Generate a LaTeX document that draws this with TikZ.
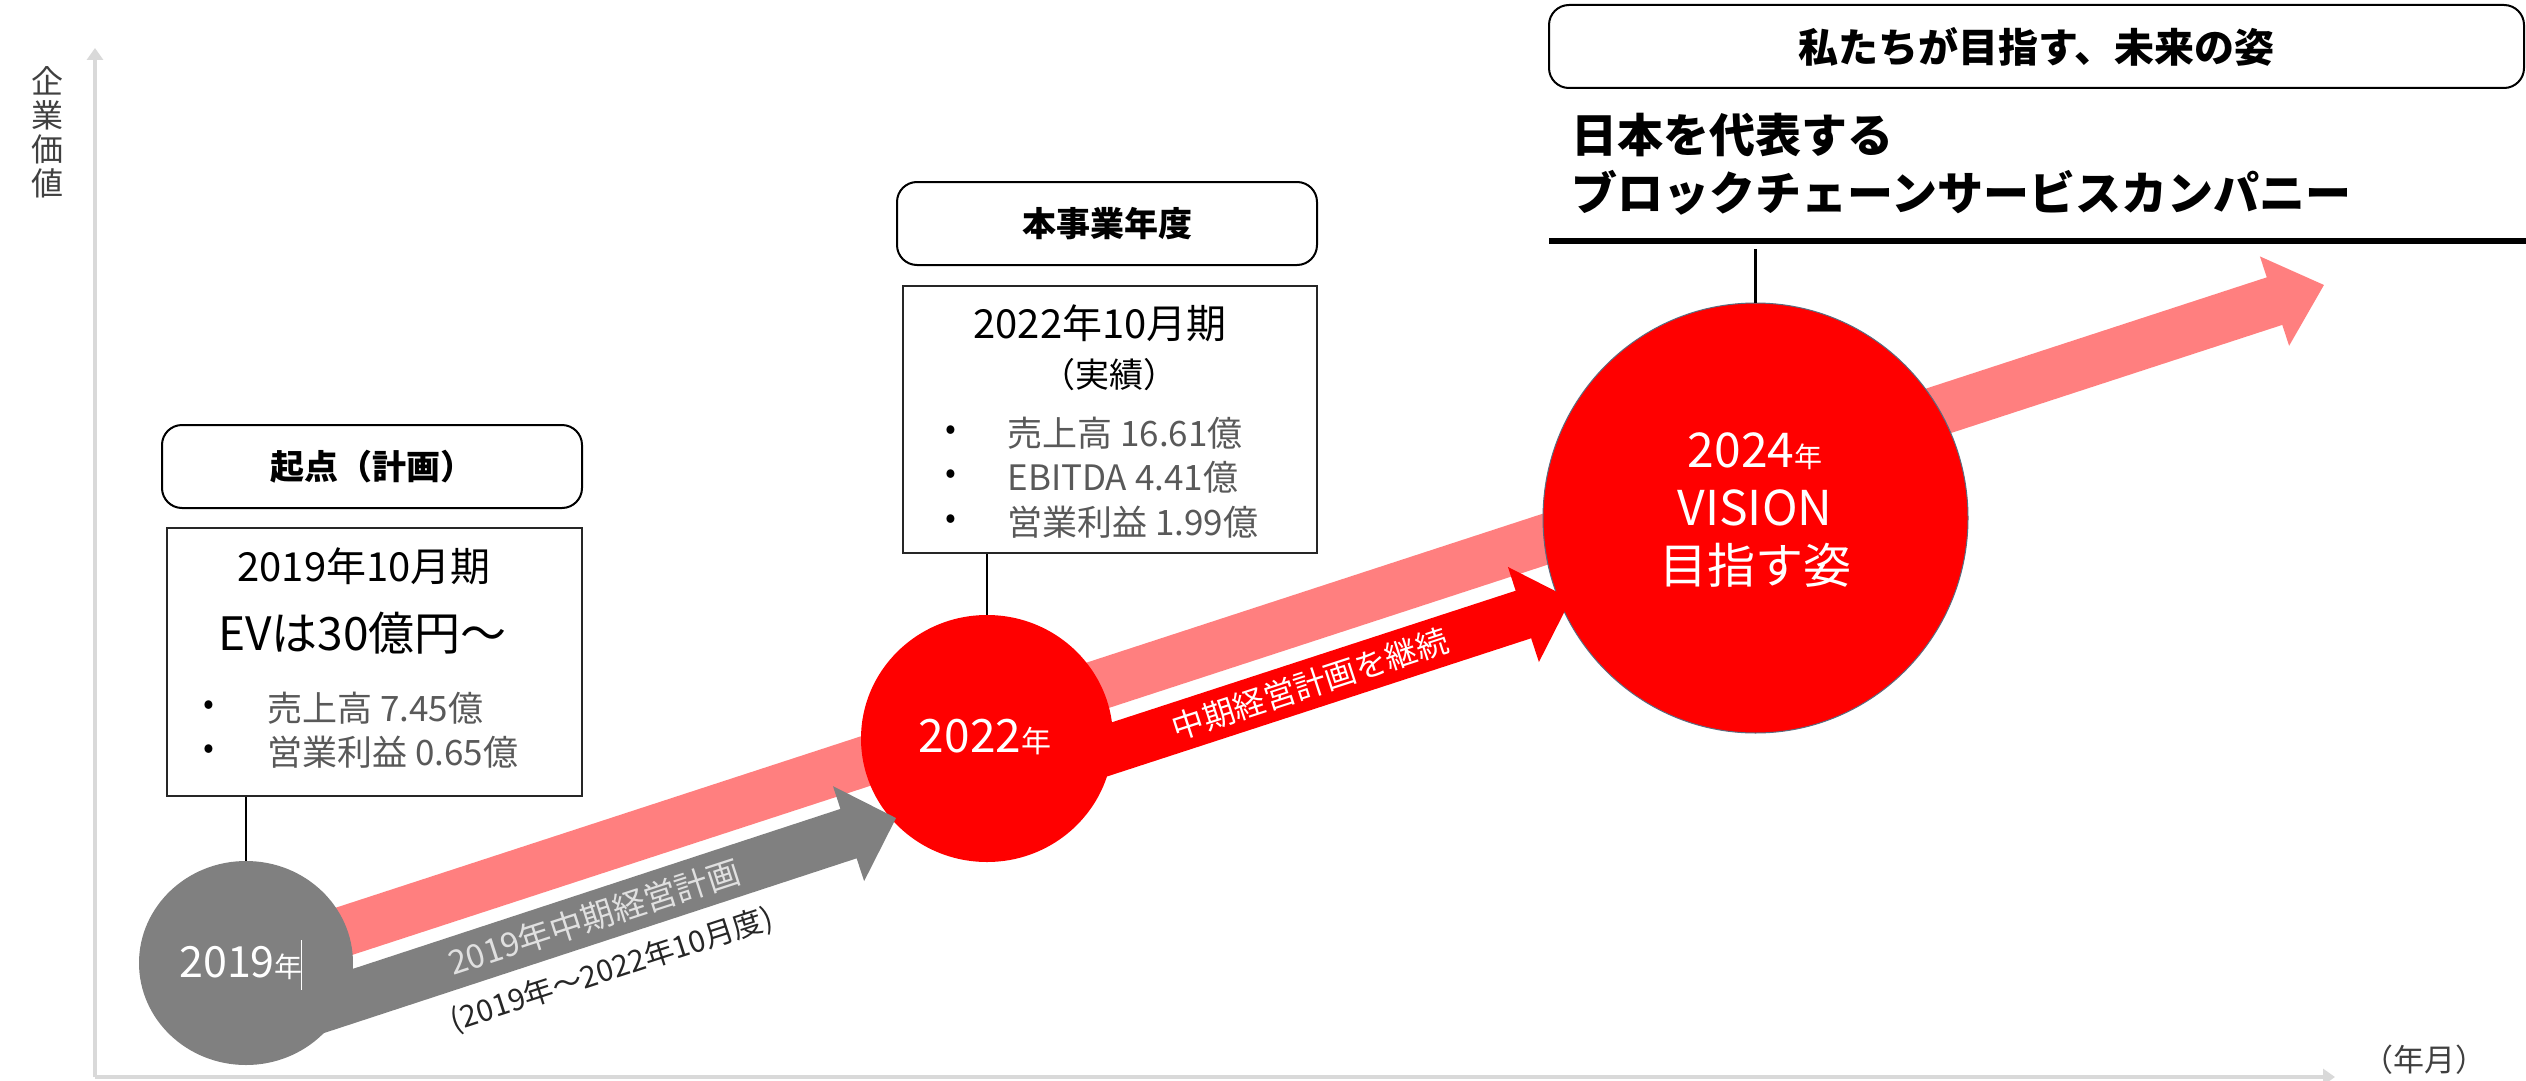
\documentclass[tikz,border=0pt]{standalone}
\usepackage{fontspec}
\setmainfont{Noto Sans CJK JP}
\usetikzlibrary{arrows.meta,shapes.geometric}
\definecolor{pinkA}{HTML}{FF7F7F}
\definecolor{redA}{HTML}{FF0000}
\definecolor{grayA}{HTML}{808080}
\definecolor{axisc}{HTML}{D9D9D9}
\definecolor{txtgray}{HTML}{595959}
\definecolor{axtxt}{HTML}{404040}
\definecolor{ringc}{HTML}{5B6B7F}
\begin{document}
\begin{tikzpicture}[x=0.5pt,y=-0.5pt,
  roundbox/.style={draw=black, line width=1pt, rounded corners=10pt, fill=white, inner sep=0pt},
  rectbox/.style={draw=black!85, line width=1pt, fill=white, inner sep=0pt},
  conn/.style={draw=black, line width=1.3pt},
  disc/.style={ellipse, inner sep=0pt},
  txt/.style={inner sep=0pt},
  head/.style={font=\fontsize{17}{20}\selectfont\bfseries},
  bul/.style={txt, font=\fontsize{16}{20}\selectfont},
  bultxt/.style={txt, anchor=west, text=txtgray, font=\fontsize{17.5}{20}\selectfont},
  axisline/.style={draw=axisc, line width=2pt, -{Triangle[width=8pt,length=6pt]}},
]
\fill[white] (0,0) rectangle (2526,1081);
\useasboundingbox (0,0) rectangle (2526,1081);

% axes
\coordinate (origin) at (95,1077);
\coordinate (ytip) at (95,48);
\coordinate (xtip) at (2335,1077);
\draw[axisline] (origin) -- (ytip);
\draw[axisline] (origin) -- (xtip);
\node[txt, text=axtxt, align=center, font=\fontsize{16}{17}\selectfont] (ylab) at (48,132) {企\\業\\価\\値};
\node[txt, text=axtxt, font=\fontsize{15.5}{18}\selectfont] (xlab) at (2424,1060) {（年月）};

% big pink arrow
\begin{scope}[shift={(250,962)}, rotate=18.08]
\fill[pinkA] (0,-25) -- (2129.7,-25) -- (2129.7,-47) -- (2181.7,0) -- (2129.7,47) -- (2129.7,25) -- (0,25) -- cycle;
\end{scope}

% circles
\node[disc, fill=grayA, minimum width=107pt, minimum height=102pt] (c2019) at (246,963) {};
\node[disc, fill=redA, minimum width=126pt, minimum height=123.5pt] (c2022) at (987,738.5) {};
\node[disc, fill=redA, draw=ringc, line width=0.5pt, minimum width=212.5pt, minimum height=215pt] (c2024) at (1755.5,518) {};

% gray arrow
\begin{scope}[shift={(262,1026)}, rotate=18.16]
\fill[grayA] (0,-26) -- (617.3,-26) -- (617.3,-50) -- (667.3,0) -- (617.3,50) -- (617.3,26) -- (0,26) -- cycle;
\end{scope}
% red arrow
\begin{scope}[shift={(1060,765.5)}, rotate=18.05]
\fill[redA] (0,-25) -- (487.4,-25) -- (487.4,-50) -- (537.4,0) -- (487.4,50) -- (487.4,25) -- (0,25) -- cycle;
\end{scope}

% arrow labels
\node[txt, rotate=18, text=white!88!black, font=\fontsize{16.5}{18}\selectfont] (lab1) at (594,917) {2019年中期経営計画};
\node[txt, rotate=18, text=black!85, font=\fontsize{15}{18}\selectfont] (lab2) at (612,970) {(2019年〜2022年10月度)};
\node[txt, rotate=18, text=white, font=\fontsize{16}{18}\selectfont] (lab3) at (1310,684) {中期経営計画を継続};

% circle texts
\node[txt, text=white] (t2019) at (241,963) {\fontsize{21.5}{24}\selectfont 2019\fontsize{14}{16}\selectfont 年};
\draw[white, line width=0.5pt] (301,940) -- (301,990);
\node[txt, text=white] (t2022) at (985,737) {\fontsize{23}{26}\selectfont 2022\fontsize{15}{16}\selectfont 年};
\node[txt, text=white, align=center, font=\fontsize{24}{29}\selectfont] (t2024) at (1755,510) {2024{\fontsize{14}{16}\selectfont 年}\\VISION\\目指す姿};

% box 1
\node[roundbox, head, minimum width=210pt, minimum height=41.5pt] (h1) at (372,466.5) {起点（計画）};
\node[rectbox, minimum width=207.5pt, minimum height=134pt] (b1) at (374.5,662) {};
\node[txt, font=\fontsize{20}{24}\selectfont] (b1a) at (364,566) {2019年10月期};
\node[txt, font=\fontsize{23}{26}\selectfont] (b1b) at (362.5,633) {EVは30億円〜};
\node[bul] (b1d1) at (209,708) {•};
\node[bul] (b1d2) at (209,752) {•};
\node[bultxt] (b1c) at (267,708) {売上高 7.45億};
\node[bultxt] (b1e) at (267,752) {営業利益 0.65億};
\draw[conn] (b1.south -| c2019.north) -- (c2019.north);

% box 2
\node[roundbox, head, minimum width=210pt, minimum height=41.5pt] (h2) at (1107,223.5) {本事業年度};
\node[rectbox, minimum width=207pt, minimum height=133.5pt] (b2) at (1110,419.5) {};
\node[txt, font=\fontsize{20}{24}\selectfont] (b2a) at (1100,323) {2022年10月期};
\node[txt, font=\fontsize{17}{20}\selectfont] (b2b) at (1109,375) {（実績）};
\node[bul] (b2d1) at (951,433) {•};
\node[bul] (b2d2) at (951,477) {•};
\node[bul] (b2d3) at (951,522) {•};
\node[bultxt] (b2c) at (1007,433) {売上高 16.61億};
\node[bultxt] (b2e) at (1007,477) {EBITDA 4.41億};
\node[bultxt] (b2f) at (1007,522) {営業利益 1.99億};
\draw[conn] (b2.south -| c2022.north) -- (c2022.north);

% vision
\node[roundbox, font=\fontsize{20}{24}\selectfont\bfseries, minimum width=487.5pt, minimum height=41.5pt] (h3) at (2036.5,46.5) {私たちが目指す、未来の姿};
\node[txt, anchor=west, align=left, font=\fontsize{23}{29}\selectfont\bfseries] (vis) at (1571,164) {日本を代表する\\ブロックチェーンサービスカンパニー};
\coordinate (ruleL) at (1549,241);
\coordinate (ruleR) at (2526,241);
\draw[line width=3pt] (ruleL) -- (ruleR);
\coordinate (vtop) at (1755.5,249);
\draw[conn] (vtop) -- (c2024.north);
\end{tikzpicture}
\end{document}
